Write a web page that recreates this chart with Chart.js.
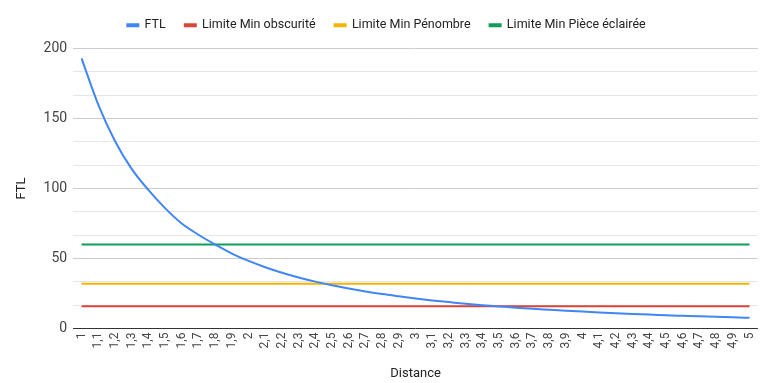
<!DOCTYPE html>
<html>
<head>
<meta charset="utf-8">
<script src="https://cdn.jsdelivr.net/npm/chart.js@4/dist/chart.umd.min.js"></script>
<style>
html,body{margin:0;padding:0;background:#fff;}
#wrap{width:768px;height:383px;position:relative;}
</style>
</head>
<body>
<div id="wrap"><canvas id="c" width="768" height="383"></canvas></div>
<script>
const distances = ["1","1,1","1,2","1,3","1,4","1,5","1,6","1,7","1,8","1,9","2","2,1","2,2","2,3","2,4","2,5","2,6","2,7","2,8","2,9","3","3,1","3,2","3,3","3,4","3,5","3,6","3,7","3,8","3,9","4","4,1","4,2","4,3","4,4","4,5","4,6","4,7","4,8","4,9","5"];
const ftl = [193,160,134,114,99,86,75,67,60,53.5,48.3,43.8,39.9,36.5,33.5,30.9,28.6,26.5,24.6,23,21.5,20.1,18.9,17.7,16.7,15.8,14.9,14.1,13.4,12.7,12.1,11.5,10.9,10.4,10,9.5,9.1,8.7,8.4,8,7.7];
const limiteObscurite = 16;
const limitePenombre = 32;
const limiteEclairee = 60;
const yTickLabels = [0,50,100,150,200];

const constSeries = v => distances.map(() => v);

const ds = (label, data, color) => ({
  label, data,
  borderColor: color, backgroundColor: color,
  borderWidth: 2, pointRadius: 0, pointHoverRadius: 0,
  tension: 0.3, cubicInterpolationMode: 'monotone'
});

const legendMargin = {
  id: 'legendMargin',
  beforeLayout(chart) {
    const lg = chart.legend;
    if (lg && !lg._patched) {
      const orig = lg.fit;
      lg.fit = function () { orig.call(this); this.height += 7; };
      lg._patched = true;
    }
  }
};

new Chart(document.getElementById('c'), {
  type: 'line',
  data: {
    labels: distances,
    datasets: [
      ds('FTL', ftl, '#4285F4'),
      ds('Limite Min obscurité', constSeries(limiteObscurite), '#DB4437'),
      ds('Limite Min Pénombre', constSeries(limitePenombre), '#F4B400'),
      ds('Limite Min Pièce éclairée', constSeries(limiteEclairee), '#0F9D58')
    ]
  },
  plugins: [legendMargin],
  options: {
    responsive: false,
    animation: false,
    layout: { padding: { left: 8, right: 3, top: 0, bottom: 1 } },
    plugins: {
      tooltip: { enabled: false },
      legend: {
        position: 'top',
        align: 'center',
        labels: {
          font: { family: 'Roboto', size: 12.5 },
          color: '#222',
          boxWidth: 11,
          boxHeight: 2,
          padding: 19
        }
      }
    },
    scales: {
      x: {
        offset: true,
        grid: { display: false, drawTicks: false },
        border: { display: false },
        ticks: {
          font: { family: 'Roboto', size: 12 },
          color: '#444',
          autoSkip: false,
          minRotation: 90, maxRotation: 90,
          padding: 4
        },
        title: {
          display: true, text: 'Distance',
          font: { family: 'Roboto', size: 13 }, color: '#222',
          padding: { top: 14, bottom: 0 }
        }
      },
      y: {
        min: 0, max: 200,
        afterBuildTicks: (axis) => {
          const t = [];
          for (let i = 0; i <= 12; i++) t.push({ value: i * 200 / 12 });
          axis.ticks = t;
        },
        grid: {
          drawTicks: false,
          color: (ctx) => {
            const v = ctx.tick ? ctx.tick.value : 0;
            if (Math.abs(v) < 1e-6) return '#333';
            return yTickLabels.some(l => Math.abs(l - v) < 1e-6) ? '#ccc' : '#e6e6e6';
          },
          lineWidth: 1
        },
        border: { display: false },
        ticks: {
          font: { family: 'Roboto', size: 14 },
          color: '#444',
          padding: 6,
          callback: (v) => {
            const m = yTickLabels.find(l => Math.abs(l - v) < 1e-6);
            return m === undefined ? '' : String(m);
          }
        },
        title: {
          display: true, text: 'FTL',
          font: { family: 'Roboto', size: 13 }, color: '#222',
          padding: { top: 6, bottom: 8 }
        }
      }
    }
  }
});
</script>
</body>
</html>
